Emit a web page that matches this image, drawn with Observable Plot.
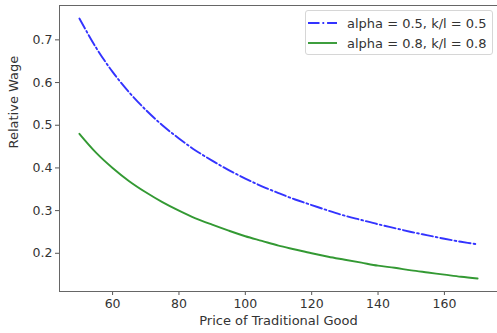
<!DOCTYPE html>
<html><head><meta charset="utf-8">
<script src="https://cdn.jsdelivr.net/npm/d3@7"></script>
<script src="https://cdn.jsdelivr.net/npm/@observablehq/plot@0.6"></script>
<style>
body{margin:0;background:#fff;font-family:"DejaVu Sans",sans-serif}
#wrap{position:relative;width:497px;height:333px;overflow:hidden}
.legend{position:absolute;left:305px;top:10px;width:188px;height:45px;border:1px solid #d6d6d6;border-radius:3px;background:rgba(255,255,255,0.8);box-sizing:border-box;font-size:13px;color:#333}
.legend .row{position:absolute;left:2px;display:flex;align-items:center;height:16px}
.legend .row span{margin-left:10px;white-space:nowrap}
</style></head><body><div id="wrap"></div>
<script>
const price = [50,55,60,65,70,75,80,85,90,95,100,105,110,115,120,125,130,135,140,145,150,155,160,165,170];
const wageA = [0.750,0.682,0.625,0.577,0.536,0.500,0.469,0.441,0.417,0.395,0.375,0.357,0.341,0.326,0.313,0.300,0.288,0.278,0.268,0.259,0.250,0.242,0.234,0.227,0.221];
const wageB = [0.480,0.436,0.400,0.369,0.343,0.320,0.300,0.282,0.267,0.253,0.240,0.229,0.218,0.209,0.200,0.192,0.185,0.178,0.171,0.166,0.160,0.155,0.150,0.145,0.141];
const seriesNames = ["alpha = 0.5, k/l = 0.5", "alpha = 0.8, k/l = 0.8"];
const xTicks = [60,80,100,120,140,160];
const yTicks = [0.2,0.3,0.4,0.5,0.6,0.7];
const xLabel = "Price of Traditional Good";
const yLabel = "Relative Wage";

const blue = "#0000ff", green = "#008000";
const dashDot = "11.5,2.9,1.8,2.9";
const dataA = price.map((p,i)=>({p, w: wageA[i]}));
const dataB = price.map((p,i)=>({p, w: wageB[i]}));

const chart = Plot.plot({
  width: 497, height: 333,
  marginLeft: 59, marginRight: 0, marginTop: 5, marginBottom: 42,
  style: {fontFamily: "DejaVu Sans, sans-serif", fontSize: "12.5px", color: "#333", background: "#fff"},
  x: {domain: [44, 176]},
  y: {domain: [0.1105, 0.7805]},
  marks: [
    Plot.line(dataA, {x: "p", y: "w", stroke: blue, strokeOpacity: 0.8, strokeWidth: 1.9, strokeDasharray: dashDot, curve: "catmull-rom"}),
    Plot.line(dataB, {x: "p", y: "w", stroke: green, strokeOpacity: 0.8, strokeWidth: 1.9, curve: "catmull-rom"}),
    Plot.axisX({ticks: xTicks, tickSize: 4, tickPadding: 4, label: null, stroke: "#555", fill: "#333"}),
    Plot.axisY({ticks: yTicks, tickSize: 4, tickPadding: 3, label: null, stroke: "#555", fill: "#333", tickFormat: d3.format(".1f")}),
    Plot.frame({anchor: "left", stroke: "#666"}),
    Plot.frame({anchor: "top", stroke: "#666"}),
    Plot.frame({anchor: "bottom", stroke: "#666"}),
    Plot.text([xLabel], {frameAnchor: "bottom", dy: 33, fill: "#333", fontSize: 13}),
    Plot.text([yLabel], {frameAnchor: "left", dx: -46, rotate: -90, fill: "#333", fontSize: 13})
  ]
});
const wrap = document.getElementById("wrap");
wrap.appendChild(chart);

const legend = document.createElement("div");
legend.className = "legend";
const styles = [
  {color: blue, dash: dashDot},
  {color: green, dash: null}
];
seriesNames.forEach((name, i) => {
  const row = document.createElement("div");
  row.className = "row";
  row.style.top = (4 + i * 20) + "px";
  const s = styles[i];
  row.innerHTML = `<svg width="29" height="8"><line x1="0" y1="4" x2="29" y2="4" stroke="${s.color}" stroke-opacity="0.8" stroke-width="1.9" ${s.dash ? `stroke-dasharray="${s.dash}"` : ""}/></svg><span>${name}</span>`;
  legend.appendChild(row);
});
wrap.appendChild(legend);
</script>
</body></html>
